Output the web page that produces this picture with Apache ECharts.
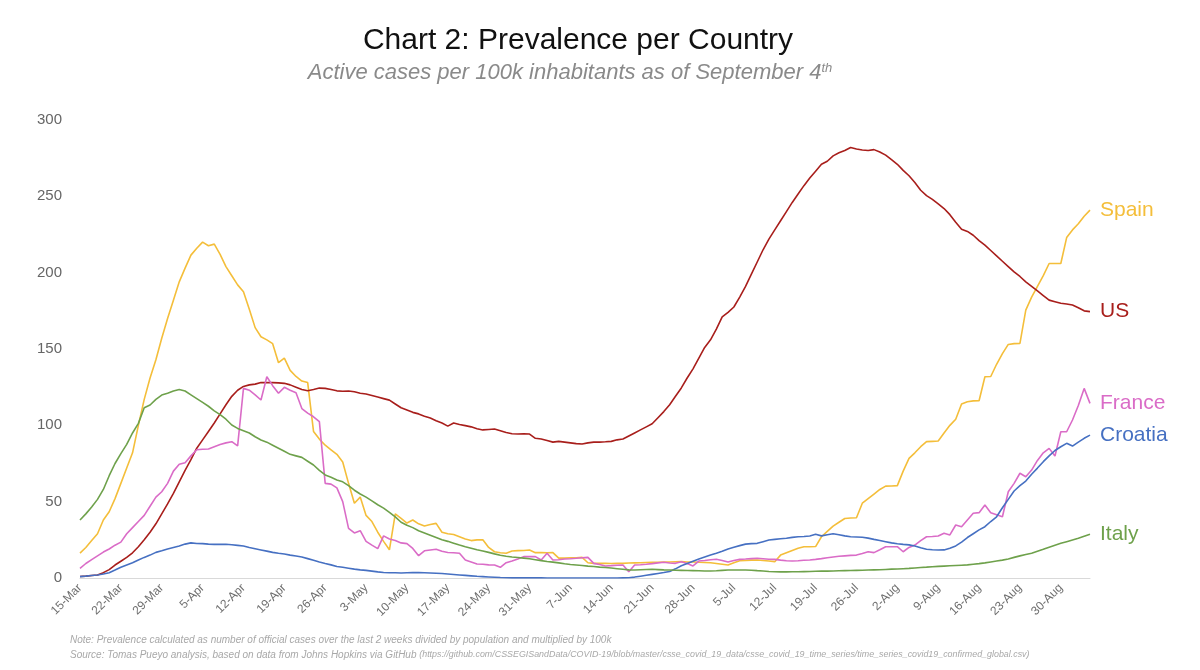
<!DOCTYPE html>
<html>
<head>
<meta charset="utf-8">
<script src="https://cdn.jsdelivr.net/npm/echarts@6/dist/echarts.min.js"></script>
<style>
html,body{margin:0;padding:0;background:#fff;}
#chart{width:1200px;height:670px;}
</style>
</head>
<body>
<div id="chart"></div>
<script>
// ---- data (daily, 15-Mar to 4-Sep) ----
const startDate = '2020-03-15';
const dayCount = 174;
const tickLabels = ['15-Mar','22-Mar','29-Mar','5-Apr','12-Apr','19-Apr','26-Apr','3-May','10-May','17-May','24-May','31-May','7-Jun','14-Jun','21-Jun','28-Jun','5-Jul','12-Jul','19-Jul','26-Jul','2-Aug','9-Aug','16-Aug','23-Aug','30-Aug'];
const seriesNames = ['Spain','US','France','Croatia','Italy'];

const spain = [16.3,20,24.5,29,38,43.4,52,62,72,82,100,117,131,143,157,170,182,194,203,211.5,216,220,217.6,218.7,212,204,198,192,187.5,176,164,158,156,153.5,141,144,136,132,129,128,96,91,87,84,81,76,62,49,53,41,37,30,24,18.5,42,39,36,38,35.5,34,35,35.8,30,29,28.5,27,25.5,24.5,25,25,20,17.2,16.5,16.2,17.7,17.9,18,18.3,16.6,16.6,16.5,16.6,13,13,13.2,13.3,13.5,10,9.6,9.6,9.6,9.5,9.6,9.6,9.8,9.9,10,10.2,10.3,10.3,10.4,10.5,10.6,10.7,10.5,10.5,10.3,10.2,10,9.5,9,8.5,10,11.3,11.5,11.7,11.8,11.5,11.1,10.7,15,16.5,18,19.5,20.5,20.5,20.6,27,30.5,34,36.5,39,39.3,39.5,49,52,55,58,60.2,60.3,60.5,70,78.4,82,86,89.3,89.5,89.7,95,100,104,114,115.5,116,116.1,131.8,132,140,147,153,153.5,153.7,175.5,184,191,198,206,206,206,223,228,232,237,241];

const us = [1,1.2,1.6,2,3.5,5.5,8.5,11,13.5,16.5,20.5,25,30,35.5,42,48.5,55.5,63,70.5,77.5,85,90.5,96,101.5,107.5,113.5,119,123,125.5,126.5,127,128,128,128,127.8,127.5,126.5,125,123.5,122.7,123.5,124.4,124.2,123.5,122.6,122.3,122.5,122,121,120.5,119.5,118.5,117.5,116.5,114,111.5,110,108.5,107.5,106,104.8,103,101.5,99.5,101.5,100.5,99.8,99,97.8,97,97.3,97.6,96.5,95.3,94.5,94.3,94.4,94.3,91.5,91,90,89,89.5,89,88.5,88,87.8,88.5,89,89,89.2,89.5,90.5,91,93,95,97,99,101,105,109,113.5,119,124.5,131,137,144,151,156,163,171,174,177.5,184,191,199,207,215,222,228,234,240,246,251.5,257,262,266.5,271,273,276.5,278.5,280,282,281,280.3,280,280.6,279,277,274,271,267,263.5,259,254,250.5,248,245,242,238,233,228.5,227,224.5,221,218,214.5,211,207.5,204,200.5,197.5,194,191,188,185,182,181,180,179.5,178.8,177,175,174.5];

const france = [6.3,9.5,12,14.5,17,19,21.5,23.5,29,33,37,41,47,53,56.5,62,70,74.5,75.5,80,84,84.3,84.5,86,87.5,88.5,89.3,86.5,124.2,123,120,116.6,131.8,126,121,124.9,123,121.3,111,108,105.6,102.4,62,61.5,59,50,32.5,29.5,31,24,21.5,19.2,27.6,25.5,24.5,23,22.5,19.4,14.6,17.8,18.3,18.8,17.5,16.7,16.5,16.2,11.8,10.5,9.2,9,8.6,8.5,7,10,11.2,12.5,14,14,14,11.8,16.2,11.8,12,12.4,12.6,12.9,13.3,13.5,9.6,8.8,7.9,8.1,8.4,8.5,4.1,8.5,8.7,9,9.4,9.9,10.3,9.8,9.6,10.7,9.5,7.9,11.1,11.5,12,12.3,11.5,10.5,11.5,12.2,12.4,12.7,12.9,12.6,12.3,12.2,11.7,11.3,11.1,11.3,11.6,11.8,12.2,12.7,13.3,13.8,14.2,14.5,14.8,15,16,17.2,16.6,18.5,20.5,20.5,20.5,17.2,20,21.6,24.5,27,27.2,27.5,29.3,28.2,34.7,33.6,38,42.4,42.8,47.8,42.8,41.5,40.1,56.5,62,68.6,66.3,70.7,77,82,84.9,79.9,95.8,95.8,103.5,113,124.2,114.4];

const croatia = [0.9,1.2,1.6,2,2.6,3.5,5.2,7,8.5,10,11.8,13.5,15,16.8,17.8,19,20,21,22.2,23,22.6,22.5,22.2,22,22,22.1,21.8,21.4,21,20,19.2,18.4,17.6,16.8,16.2,15.7,15,14.4,13.7,12.7,11.6,10.5,9.5,8.6,7.5,7,6.4,5.8,5.3,5,4.5,4,3.6,3.4,3.4,3.3,3.4,3.5,3.5,3.4,3.3,3.1,2.9,2.6,2.3,2,1.7,1.4,1.1,0.9,0.7,0.5,0.3,0.2,0.1,0.1,0.1,0.1,0.1,0.1,0,0,0,0,0,0,0,0,0,0,0,0,0,0.1,0.2,0.6,1.2,1.8,2.4,3,3.6,4.3,6,8,9.5,11,12.4,13.7,15,16.2,17.5,19,20.2,21.2,22.2,22.5,22.7,23.8,24.9,25.3,25.7,26,26.6,27,27.2,27.5,28.6,27.6,28.3,29,28.3,27.6,27,26.9,26.7,26.1,25.3,24.6,23.8,23,22.4,22,21.7,21,19.8,18.8,18.5,18.3,18.4,19.5,21,23.5,26.5,29,31.5,33.6,37,40.1,46,51.5,57,60.5,63.5,68,72,76.2,80,83.5,86,88.2,86.4,89,91.5,93.6];

const italy = [38,42,46.5,51.5,58,67,75,81.5,87.5,95,101.3,111.5,113.3,117,119.8,121,122.5,123.5,122.5,120,117.5,115,112.5,109.5,107,104,100.2,98,96.5,95,92.5,90.4,89,87,85,83,81,80,79,76.5,74,70.5,67.5,66,64.2,63,60.5,57.5,55,53,50.5,48,45.8,43,40,36.5,34.5,33,31,29.5,28,26.5,25,24,22.8,21.6,20.5,19.5,18.5,17.7,16.8,15.8,14.9,14.3,13.8,13.4,13,12.6,12,11.4,10.8,10.4,9.9,9.3,8.8,8.5,8.2,7.8,7.5,7.1,6.9,6.5,6.1,5.7,5.3,5.2,5.4,5.6,5.7,5.5,5.3,5.2,5.1,5,4.9,4.8,4.7,4.6,4.6,4.7,5,5.2,5.2,5.2,5.2,5.1,4.8,4.6,4.3,4.1,4,4,4.1,4.1,4.2,4.3,4.4,4.5,4.5,4.6,4.7,4.8,4.9,5,5.1,5.2,5.3,5.4,5.6,5.8,5.9,6.1,6.3,6.6,6.9,7.1,7.4,7.6,7.8,8,8.2,8.4,8.6,9,9.4,9.9,10.5,11.1,11.7,12.5,13.5,14.5,15.4,16.2,17.5,18.8,20.2,21.5,22.7,23.8,24.9,26,27.3,28.6];

const yTicks = [0,50,100,150,200,250,300];

// ---- build categories ----
const monthNames = ['Jan','Feb','Mar','Apr','May','Jun','Jul','Aug','Sep','Oct','Nov','Dec'];
const categories = [];
{
  const d0 = new Date(startDate + 'T00:00:00Z');
  for (let i = 0; i < dayCount; i++) {
    const d = new Date(d0.getTime() + i * 86400000);
    categories.push(d.getUTCDate() + '-' + monthNames[d.getUTCMonth()]);
  }
}

const colors = {
  Spain: '#F4BE3A',
  US: '#A81E1B',
  France: '#DA6CC7',
  Croatia: '#4670C2',
  Italy: '#6EA14B'
};
const dataMap = {Spain: spain, US: us, France: france, Croatia: croatia, Italy: italy};

const chart = echarts.init(document.getElementById('chart'), null, {renderer: 'canvas'});

const FONT = '"Liberation Sans", Arial, Helvetica, sans-serif';

chart.setOption({
  animation: false,
  backgroundColor: '#ffffff',
  grid: {left: 80, right: 110, top: 120, bottom: 92, containLabel: false},
  xAxis: {
    type: 'category',
    data: categories,
    boundaryGap: false,
    axisLine: {show: true, lineStyle: {color: '#d9d9d9', width: 1}},
    axisTick: {show: false},
    axisLabel: {
      interval: function (idx, val) { return tickLabels.indexOf(val) >= 0; },
      rotate: 45,
      margin: 8,
      fontFamily: FONT,
      fontSize: 12,
      color: '#6f6f6f'
    },
    splitLine: {show: false}
  },
  yAxis: {
    type: 'value',
    min: yTicks[0],
    max: yTicks[yTicks.length - 1],
    interval: 50,
    axisLine: {show: false},
    axisTick: {show: false},
    splitLine: {show: false},
    axisLabel: {margin: 18, fontFamily: FONT, fontSize: 15, color: '#666'}
  },
  series: seriesNames.map(function (name) {
    return {
      name: name,
      type: 'line',
      data: dataMap[name],
      showSymbol: false,
      symbol: 'none',
      smooth: false,
      lineStyle: {color: colors[name], width: 1.6},
      itemStyle: {color: colors[name]},
      endLabel: {
        show: true,
        formatter: name,
        distance: 10,
        fontFamily: FONT,
        fontSize: 21,
        color: colors[name]
      },
      emphasis: {disabled: true}
    };
  }),
  graphic: [
    {
      type: 'text', x: 578, y: 41,
      style: {
        text: 'Chart 2: Prevalence per Country',
        fontFamily: FONT, fontSize: 30, fill: '#111',
        textAlign: 'center', textVerticalAlign: 'middle'
      }
    },
    {
      type: 'text', x: 570, y: 73,
      style: {
        text: '{s|Active cases per 100k inhabitants as of September 4}{sup|th}',
        textAlign: 'center', textVerticalAlign: 'middle',
        rich: {
          s: {fontFamily: FONT, fontSize: 22, fontStyle: 'italic', fill: '#8a8a8a'},
          sup: {fontFamily: FONT, fontSize: 13, fontStyle: 'italic', fill: '#8a8a8a', verticalAlign: 'top', padding: [0,0,9,0]}
        }
      }
    },
    {
      type: 'text', left: 70, top: 635,
      style: {
        text: 'Note: Prevalence calculated as number of official cases over the last 2 weeks divided by population and multiplied by 100k',
        fontFamily: FONT, fontSize: 10, fontStyle: 'italic', fill: '#a8a8a8'
      }
    },
    {
      type: 'text', left: 70, top: 650,
      style: {
        text: '{a|Source: Tomas Pueyo analysis, based on data from Johns Hopkins via GitHub }{b|(https://github.com/CSSEGISandData/COVID-19/blob/master/csse_covid_19_data/csse_covid_19_time_series/time_series_covid19_confirmed_global.csv)}',
        rich: {
          a: {fontFamily: FONT, fontSize: 10, fontStyle: 'italic', fill: '#a8a8a8'},
          b: {fontFamily: FONT, fontSize: 8.9, fontStyle: 'italic', fill: '#a8a8a8'}
        }
      }
    }
  ]
});
</script>
</body>
</html>
